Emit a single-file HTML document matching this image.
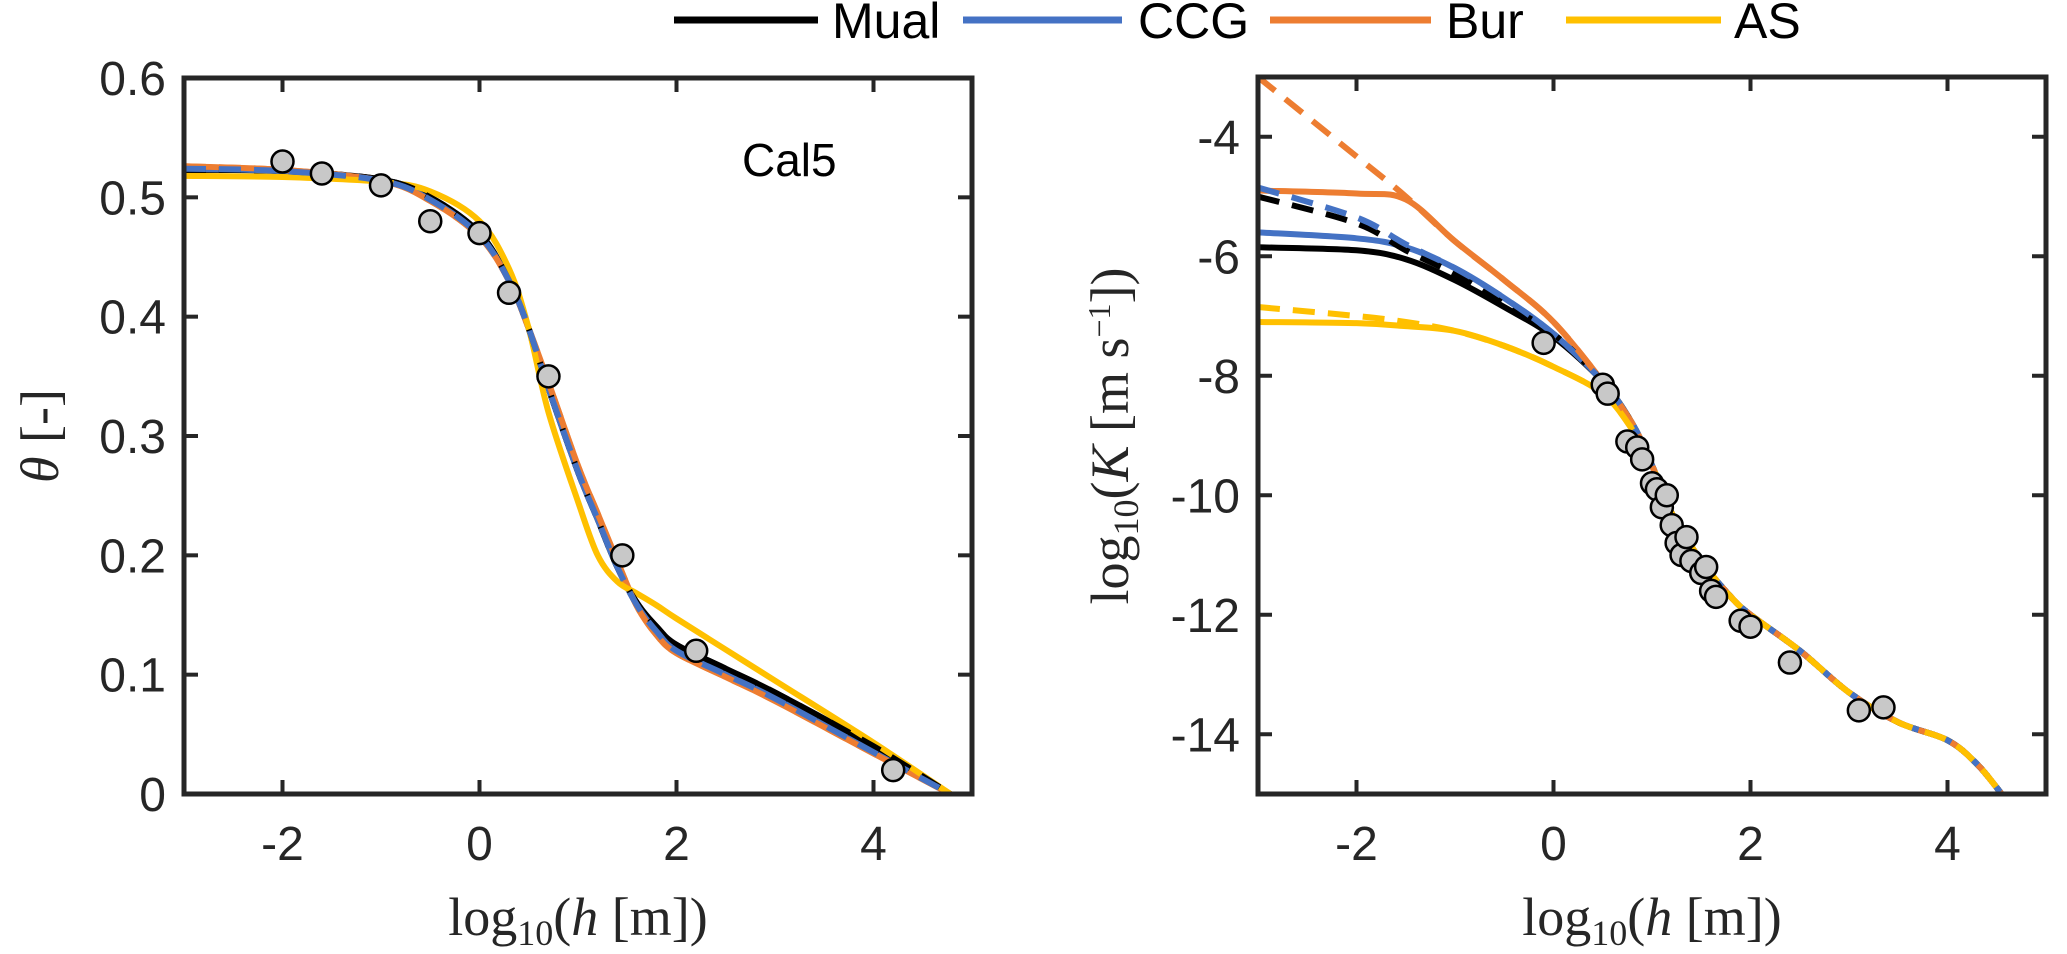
<!DOCTYPE html>
<html><head><meta charset="utf-8"><style>
body{margin:0;background:#fff;}
svg{display:block;font-family:"Liberation Sans",sans-serif;}
.tick{font-size:48px;fill:#262626;}
.lab{font-family:"Liberation Serif",serif;font-size:54px;fill:#262626;}
</style></head><body>
<svg id="fig" width="2067" height="954" viewBox="0 0 2067 954">
<g>
 <g><line x1="674" y1="20" x2="818" y2="20" stroke="#000" stroke-width="7"/><text x="832" y="38" font-size="50" fill="#000">Mual</text></g>
 <g><line x1="963" y1="20" x2="1122" y2="20" stroke="#4472C4" stroke-width="7"/><text x="1138" y="38" font-size="50" fill="#000">CCG</text></g>
 <g><line x1="1270" y1="20" x2="1431" y2="20" stroke="#ED7D31" stroke-width="7"/><text x="1446" y="38" font-size="50" fill="#000">Bur</text></g>
 <g><line x1="1566" y1="20" x2="1721" y2="20" stroke="#FFC000" stroke-width="7"/><text x="1734" y="38" font-size="50" fill="#000">AS</text></g>
</g>
<g id="left"></g>
<g id="right"></g>
<text x="742" y="176" font-size="46" fill="#000">Cal5</text>
<text class="lab" x="578" y="935" text-anchor="middle">log<tspan font-size="36" dy="10">10</tspan><tspan dy="-10">(</tspan><tspan font-style="italic">h</tspan> [m])</text>
<text class="lab" x="1652" y="935" text-anchor="middle">log<tspan font-size="36" dy="10">10</tspan><tspan dy="-10">(</tspan><tspan font-style="italic">h</tspan> [m])</text>
<text class="lab" transform="translate(58,436) rotate(-90)" text-anchor="middle"><tspan font-style="italic">θ</tspan> [-]</text>
<text class="lab" transform="translate(1128,436) rotate(-90)" text-anchor="middle">log<tspan font-size="36" dy="10">10</tspan><tspan dy="-10">(</tspan><tspan font-style="italic">K</tspan> [m s<tspan font-size="32" dy="-18">−1</tspan><tspan dy="18">])</tspan></text>
</svg>
<script>
const xTicks=[-2,0,2,4];
const thetaTicks=[0,0.1,0.2,0.3,0.4,0.5,0.6];
const kTicks=[-14,-12,-10,-8,-6,-4];
const thX=[-3,-2,-1,-0.5,0,0.3,0.5,0.7,1.0,1.2,1.4,1.6,1.8,2,2.5,3,4,4.78];
const thMual=[0.523,0.522,0.515,0.50,0.47,0.43,0.39,0.34,0.27,0.23,0.19,0.16,0.14,0.125,0.105,0.085,0.04,0];
const thCCG=[0.524,0.522,0.514,0.498,0.468,0.43,0.39,0.34,0.27,0.23,0.19,0.158,0.136,0.12,0.10,0.08,0.035,0];
const thBur=[0.526,0.523,0.514,0.497,0.467,0.43,0.39,0.345,0.275,0.235,0.195,0.157,0.133,0.118,0.098,0.078,0.034,0];
const thAS=[0.518,0.517,0.513,0.505,0.48,0.44,0.39,0.32,0.245,0.20,0.178,0.168,0.158,0.147,0.121,0.095,0.043,0];
const thObsX=[-2,-1.6,-1,-0.5,0,0.3,0.7,1.45,2.2,4.2];
const thObsY=[0.53,0.52,0.51,0.48,0.47,0.42,0.35,0.20,0.12,0.02];
const kX=[-3,-2,-1.5,-1,-0.5,0,0.5,0.8,1.0,1.2,1.5,1.8,2,2.5,3,3.5,4,4.3,4.55];
const kMual=[-5.85,-5.9,-6.05,-6.4,-6.85,-7.35,-8.1,-8.8,-9.5,-10.3,-11.1,-11.7,-12.0,-12.6,-13.3,-13.8,-14.1,-14.5,-15];
const kMualD=[-5.0,-5.45,-5.9,-6.3,-6.8,-7.3,-8.1,-8.8,-9.5,-10.3,-11.1,-11.7,-12.0,-12.6,-13.3,-13.8,-14.1,-14.5,-15];
const kCCG=[-5.6,-5.7,-5.85,-6.2,-6.7,-7.3,-8.1,-8.8,-9.5,-10.3,-11.1,-11.7,-12.0,-12.6,-13.3,-13.8,-14.1,-14.5,-15];
const kCCGD=[-4.85,-5.35,-5.8,-6.2,-6.7,-7.3,-8.1,-8.8,-9.5,-10.3,-11.1,-11.7,-12.0,-12.6,-13.3,-13.8,-14.1,-14.5,-15];
const kBur=[-4.9,-4.95,-5.05,-5.75,-6.4,-7.1,-8.1,-8.8,-9.5,-10.3,-11.1,-11.7,-12.0,-12.6,-13.3,-13.8,-14.1,-14.5,-15];
const kBurD=[-3.0,-4.33,-5.0,-5.75,-6.4,-7.1,-8.1,-8.8,-9.5,-10.3,-11.1,-11.7,-12.0,-12.6,-13.3,-13.8,-14.1,-14.5,-15];
const kAS=[-7.1,-7.12,-7.17,-7.25,-7.5,-7.85,-8.3,-8.9,-9.5,-10.3,-11.1,-11.7,-12.0,-12.6,-13.3,-13.8,-14.1,-14.5,-15];
const kASD=[-6.85,-7.0,-7.1,-7.25,-7.5,-7.85,-8.3,-8.9,-9.5,-10.3,-11.1,-11.7,-12.0,-12.6,-13.3,-13.8,-14.1,-14.5,-15];
const kObsX=[-0.1,0.5,0.55,0.75,0.85,0.9,1.0,1.05,1.1,1.15,1.2,1.25,1.3,1.35,1.4,1.5,1.55,1.6,1.65,1.9,2.0,2.4,3.1,3.35];
const kObsY=[-7.45,-8.15,-8.3,-9.1,-9.2,-9.4,-9.8,-9.9,-10.2,-10.0,-10.5,-10.8,-11.0,-10.7,-11.1,-11.3,-11.2,-11.6,-11.7,-12.1,-12.2,-12.8,-13.6,-13.55];

const NS='http://www.w3.org/2000/svg';
function mk(tag,attrs,parent){const e=document.createElementNS(NS,tag);for(const k in attrs)e.setAttribute(k,attrs[k]);parent.appendChild(e);return e;}
function smooth(pts){let d='M'+pts[0][0]+','+pts[0][1];for(let i=0;i<pts.length-1;i++){const p0=pts[Math.max(i-1,0)],p1=pts[i],p2=pts[i+1],p3=pts[Math.min(i+2,pts.length-1)];const c1=[p1[0]+(p2[0]-p0[0])/6,p1[1]+(p2[1]-p0[1])/6],c2=[p2[0]-(p3[0]-p1[0])/6,p2[1]-(p3[1]-p1[1])/6];d+=' C'+c1+' '+c2+' '+p2;}return d;}

function panel(g,L,R,T,B,x0,x1,y0,y1,yt,ytFmt,series,ox,oy,name){
 const sx=v=>L+(v-x0)/(x1-x0)*(R-L), sy=v=>B-(v-y0)/(y1-y0)*(B-T);
 const clip=mk('clipPath',{id:'c'+name},g);mk('rect',{x:L,y:T,width:R-L,height:B-T},clip);
 const plot=mk('g',{'clip-path':'url(#c'+name+')'},g);
 series.forEach(s=>{
  const p=mk('path',{d:smooth(s.x.map((v,i)=>[sx(v),sy(s.y[i])])),fill:'none',stroke:s.c,'stroke-width':6,'stroke-dasharray':s.d?'22 13':'none'},plot);
  
  
 });
 ox.forEach((v,i)=>{const c=mk('circle',{cx:sx(v),cy:sy(oy[i]),r:11,fill:'#c8c8c8',stroke:'#000','stroke-width':2.5},g);
  
  });
 const ax=mk('rect',{x:L,y:T,width:R-L,height:B-T,fill:'none',stroke:'#262626','stroke-width':5},g);
 
 
 xTicks.forEach(v=>{const X=sx(v);mk('line',{x1:X,y1:B,x2:X,y2:B-14,stroke:'#262626','stroke-width':4},g);mk('line',{x1:X,y1:T,x2:X,y2:T+14,stroke:'#262626','stroke-width':4},g);
  const t=mk('text',{x:X,y:B+66,'text-anchor':'middle',class:'tick'},g);t.textContent=v;
  
  });
 yt.forEach(v=>{const Y=sy(v);mk('line',{x1:L,y1:Y,x2:L+14,y2:Y,stroke:'#262626','stroke-width':4},g);mk('line',{x1:R,y1:Y,x2:R-14,y2:Y,stroke:'#262626','stroke-width':4},g);
  const t=mk('text',{x:L-18,y:Y+17,'text-anchor':'end',class:'tick'},g);t.textContent=ytFmt(v);
  
  });
}
panel(document.getElementById('left'),184,972,78,794,-3,5,0,0.6,thetaTicks,v=>v===0?'0':v.toFixed(1),[
 {x:thX,y:thMual,c:'#000',n:'theta-mual'},{x:thX,y:thCCG,c:'#4472C4',n:'theta-ccg'},{x:thX,y:thBur,c:'#ED7D31',n:'theta-bur'},{x:thX,y:thAS,c:'#FFC000',n:'theta-as'},
 {x:thX,y:thMual,c:'#000',d:1,n:'theta-mual-dashed'},{x:thX,y:thBur,c:'#ED7D31',d:1,n:'theta-bur-dashed'},{x:thX,y:thCCG,c:'#4472C4',d:1,n:'theta-ccg-dashed'}
],thObsX,thObsY,'L');
panel(document.getElementById('right'),1258,2046,77,794,-3,5,-15,-3,kTicks,v=>String(v),[
 {x:kX,y:kMual,c:'#000',n:'k-mual'},{x:kX,y:kCCG,c:'#4472C4',n:'k-ccg'},{x:kX,y:kBur,c:'#ED7D31',n:'k-bur'},{x:kX,y:kAS,c:'#FFC000',n:'k-as'},
 {x:kX,y:kMualD,c:'#000',d:1,n:'k-mual-dashed'},{x:kX,y:kCCGD,c:'#4472C4',d:1,n:'k-ccg-dashed'},{x:kX,y:kBurD,c:'#ED7D31',d:1,n:'k-bur-dashed'},{x:kX,y:kASD,c:'#FFC000',d:1,n:'k-as-dashed'}
],kObsX,kObsY,'R');
</script>
</body></html>
